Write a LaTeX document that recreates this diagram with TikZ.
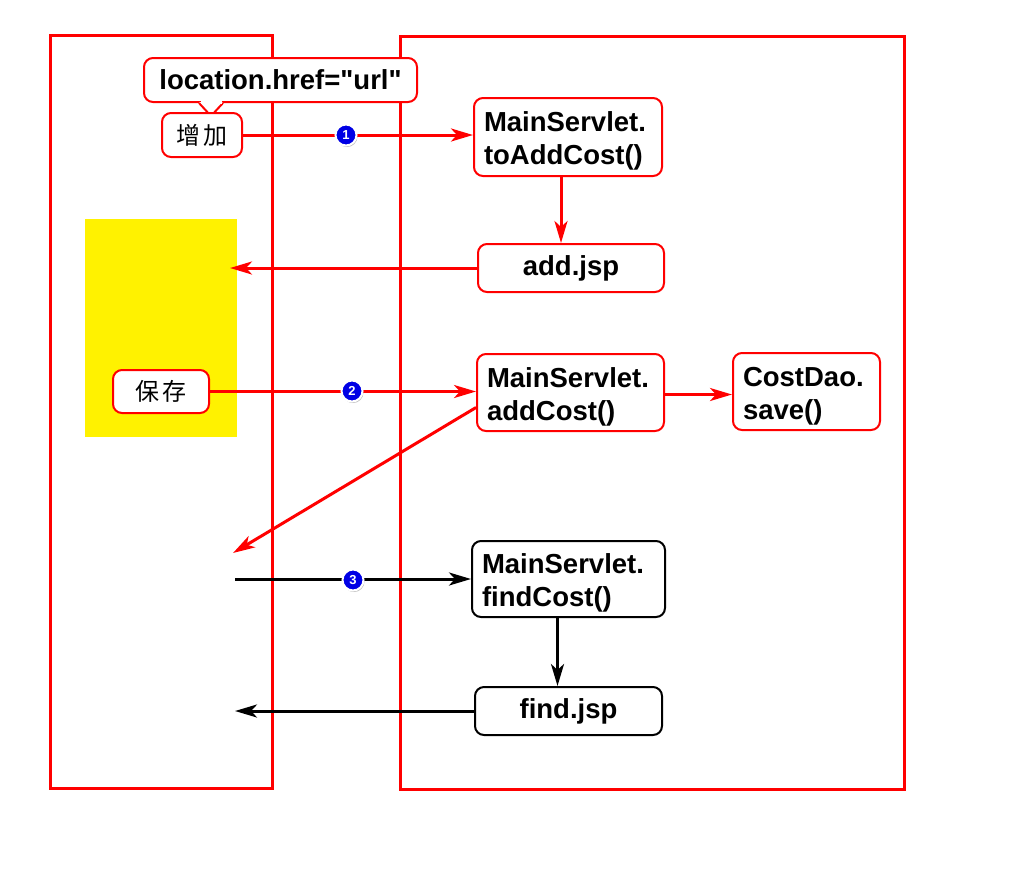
\documentclass[tikz,border=0pt]{standalone}
\usepackage{fontspec}
\setmainfont{Liberation Sans}
\newfontfamily\cjk{Noto Sans CJK SC}
\usetikzlibrary{arrows.meta,shadows}
\newcommand\tallstrut{\rule{0pt}{28pt}}
\begin{document}
\begin{tikzpicture}[x=1pt,y=-1pt,
  frame/.style={draw=red,line width=3pt},
  box/.style={draw=#1,line width=2pt,rounded corners=9pt,fill=white,
    font=\bfseries\fontsize{27.5}{33}\selectfont,inner xsep=10pt,inner ysep=3pt},
  box/.default=red,
  cnbox/.style={draw=red,line width=2pt,rounded corners=9pt,fill=white,
    font=\cjk\fontsize{24}{28}\selectfont,minimum height=44pt,inner xsep=8pt},
  tip/.style={-{Stealth[length=22pt,width=13pt,inset=6pt]}},
  redarr/.style={draw=red,line width=3pt,tip},
  blkarr/.style={draw=black,line width=3pt,tip},
  badge/.style={circle,fill=blue!90!black,draw=white,line width=2pt,text=white,
    inner sep=0pt,minimum size=21pt,font=\bfseries\fontsize{13}{13}\selectfont,
    drop shadow={shadow xshift=1pt,shadow yshift=-1.5pt,opacity=0.5}}
]
\useasboundingbox (0,0) rectangle (1024,879);
\fill[white] (0,0) rectangle (1024,879);
% frames
\node[frame,minimum width=222pt,minimum height=753pt,inner sep=0pt] (lf) at (161,411.5) {};
\node[frame,minimum width=504pt,minimum height=753pt,inner sep=0pt] (rf) at (652,412.5) {};
\node[fill=yellow,minimum width=152pt,minimum height=218pt,inner sep=0pt] (yel) at (161,328) {};

% callout
\node[draw=red,line width=2pt,rounded corners=9pt,fill=white,
  font=\bfseries\fontsize{27.5}{33}\selectfont,minimum width=273pt,minimum height=44pt,inner xsep=4pt]
  (loc) at (280.5,80) {location.href=\textquotedbl url\textquotedbl};
\coordinate (ptip) at (211,116);
\fill[white] ([xshift=-12pt,yshift=1pt]loc.south -| ptip) -- (ptip) -- ([xshift=12pt,yshift=1pt]loc.south -| ptip) -- cycle;
\draw[red,line width=2pt,line join=round] ([xshift=-12pt]loc.south -| ptip) -- (ptip) -- ([xshift=12pt]loc.south -| ptip);
\fill[white] ([xshift=-10.5pt,yshift=-0.9pt]loc.south -| ptip) rectangle ([xshift=10.5pt,yshift=2.5pt]loc.south -| ptip);

\node[cnbox,minimum width=80pt] (zj) at (202,135) {增\hspace{4pt}加};
\node[cnbox,minimum width=96pt,minimum height=43pt] (bc) at (161,391.5) {保\hspace{4pt}存};

% right boxes
\node[box,text width=168pt,align=left,minimum height=78pt] (toadd) at (568,137) {\tallstrut MainServlet.\\toAddCost()};
\node[box,text width=166pt,align=center,minimum height=48pt] (addjsp) at (571,268) {add.jsp};
\node[box,text width=167pt,align=left,minimum height=77pt] (addc) at (570.5,392.5) {\tallstrut MainServlet.\\addCost()};
\node[box,text width=127pt,align=left,minimum height=77pt] (dao) at (806.5,391.5) {\tallstrut CostDao.\\save()};
\node[box=black,text width=173pt,align=left,minimum height=76pt] (findc) at (568.5,579) {\tallstrut MainServlet.\\findCost()};
\node[box=black,text width=167pt,align=center,minimum height=48pt] (findjsp) at (568.5,711) {find.jsp};

% coordinates for free ends
\coordinate (e1) at (230,268);
\coordinate (e2) at (233,553);
\coordinate (s3) at (235,579);
\coordinate (e4) at (235,711);

% connectors
\draw[redarr] (zj.east) -- (zj.east -| toadd.west);
\node[badge] (b1) at (346,135) {1};
\draw[redarr] ([xshift=-7pt]toadd.south) -- ([xshift=-7pt]toadd.south |- addjsp.north);
\draw[redarr] (addjsp.west) -- (e1);
\draw[redarr] (bc.east) -- (bc.east -| addc.west);
\node[badge] (b2) at (352,391) {2};
\draw[redarr] ([yshift=-2pt]addc.east) -- ([yshift=-2pt]addc.east -| dao.west);
\draw[redarr] ([yshift=-15pt]addc.west) -- (e2);
\draw[blkarr] (s3) -- (findc.west);
\node[badge] (b3) at (353,580) {3};
\draw[blkarr] ([xshift=-11pt]findc.south) -- ([xshift=-11pt]findc.south |- findjsp.north);
\draw[blkarr] (findjsp.west) -- (e4);
\end{tikzpicture}
\end{document}
